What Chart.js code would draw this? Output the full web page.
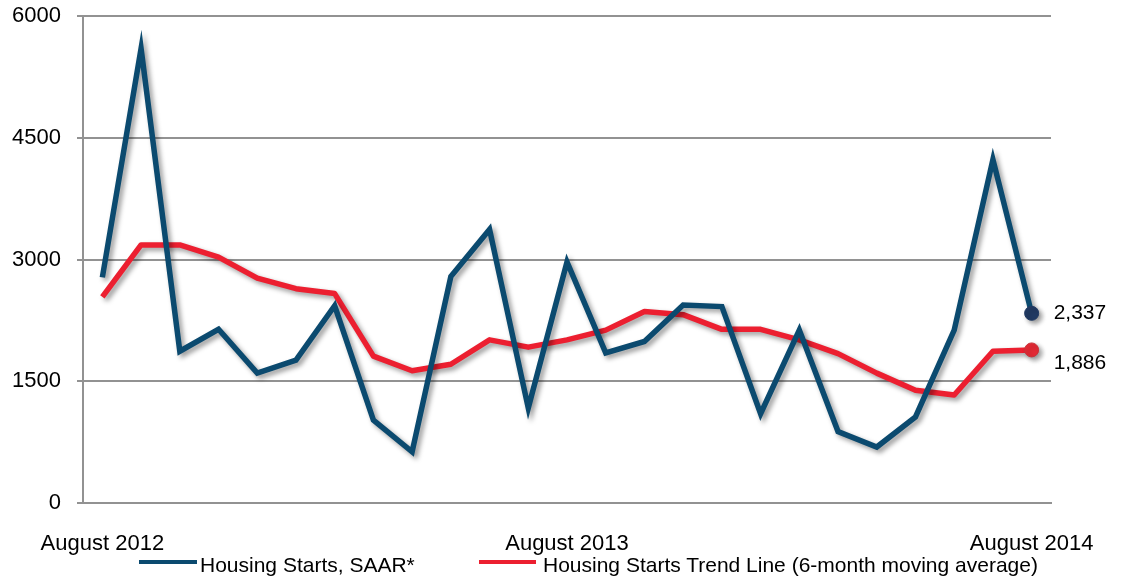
<!DOCTYPE html>
<html>
<head>
<meta charset="utf-8">
<script src="https://cdn.jsdelivr.net/npm/chart.js@4.4.1/dist/chart.umd.min.js"></script>
<style>
  html, body { margin: 0; padding: 0; background: #fff; }
  #wrap { position: relative; width: 1122px; height: 586px; }
  canvas { position: absolute; left: 0; top: 0; }
  .leg { position: absolute; top: 552px; font-family: "Liberation Sans", Arial, sans-serif; font-size: 21px; color: #000; white-space: nowrap; line-height: 26px; }
  .sw { position: absolute; height: 4px; top: 560px; }
</style>
</head>
<body>
<div id="wrap">
  <canvas id="c" width="1122" height="586"></canvas>
  <div class="sw" id="sw1" style="left:139px;width:58px;"></div>
  <div class="leg" id="lg1" style="left:200px;"></div>
  <div class="sw" id="sw2" style="left:479px;width:57px;"></div>
  <div class="leg" id="lg2" style="left:543px;"></div>
</div>
<script>
// ---- data ----
const months = ["August 2012","September 2012","October 2012","November 2012","December 2012",
  "January 2013","February 2013","March 2013","April 2013","May 2013","June 2013","July 2013",
  "August 2013","September 2013","October 2013","November 2013","December 2013",
  "January 2014","February 2014","March 2014","April 2014","May 2014","June 2014","July 2014","August 2014"];
const shownLabels = ["August 2012","August 2013","August 2014"];
const housingStarts = [2780,5600,1870,2140,1600,1760,2430,1020,630,2790,3370,1170,2970,1850,1990,2440,2420,1100,2130,880,690,1060,2130,4230,2337];
const trendLine = [2540,3180,3180,3030,2770,2640,2580,1810,1630,1710,2010,1920,2010,2130,2360,2320,2140,2140,2010,1840,1600,1390,1330,1870,1886];
const seriesNames = ["Housing Starts, SAAR*","Housing Starts Trend Line (6-month moving average)"];
const endLabels = ["2,337","1,886"];
const yTicks = [0,1500,3000,4500,6000];

const BLUE = "#0b4a6f", BLUE_MK = "#213a63";
const RED = "#ec1f30", RED_MK = "#e42a35";
const GRID = "#929292";
const FONT = "'Liberation Sans', Arial, sans-serif";

document.getElementById('sw1').style.background = BLUE;
document.getElementById('sw2').style.background = RED;
document.getElementById('lg1').textContent = seriesNames[0];
document.getElementById('lg2').textContent = seriesNames[1];

const lastIdx = months.length - 1;
const radii = months.map((m,i) => i === lastIdx ? 7 : 0);

const shadowPlugin = {
  id: 'shadow',
  beforeDatasetDraw(chart) {
    const ctx = chart.ctx;
    ctx.save();
    ctx.shadowColor = 'rgba(0,0,0,0.4)';
    ctx.shadowBlur = 5;
    ctx.shadowOffsetX = 3;
    ctx.shadowOffsetY = 3;
  },
  afterDatasetDraw(chart) { chart.ctx.restore(); }
};

const endLabelPlugin = {
  id: 'endLabels',
  afterDatasetsDraw(chart) {
    const ctx = chart.ctx;
    ctx.save();
    ctx.font = "21px " + FONT;
    ctx.fillStyle = "#000";
    ctx.textBaseline = "middle";
    ctx.textAlign = "left";
    const dy = [0, 13];
    chart.data.datasets.forEach((ds, di) => {
      const pt = chart.getDatasetMeta(di).data[lastIdx];
      ctx.fillText(endLabels[di], pt.x + 22, pt.y + dy[di]);
    });
    ctx.restore();
  }
};

new Chart(document.getElementById('c'), {
  type: 'line',
  data: {
    labels: months,
    datasets: [
      { label: seriesNames[0], data: housingStarts, borderColor: BLUE, borderWidth: 5.5,
        pointRadius: radii, pointBackgroundColor: BLUE_MK, pointBorderColor: BLUE_MK, pointBorderWidth: 1,
        tension: 0, borderJoinStyle: 'miter', fill: false },
      { label: seriesNames[1], data: trendLine, borderColor: RED, borderWidth: 5.5,
        pointRadius: radii, pointBackgroundColor: RED_MK, pointBorderColor: '#c8333a', pointBorderWidth: 1,
        tension: 0, borderJoinStyle: 'round', fill: false }
    ]
  },
  options: {
    responsive: false,
    animation: false,
    events: [],
    layout: { padding: { top: 16, right: 71, left: 0, bottom: 0 } },
    plugins: { legend: { display: false }, tooltip: { enabled: false } },
    scales: {
      x: {
        offset: true,
        grid: { display: false, drawTicks: false },
        border: { display: true, color: GRID, width: 2 },
        ticks: {
          autoSkip: false, maxRotation: 0, minRotation: 0, padding: 28,
          color: '#000', font: { family: FONT, size: 22 },
          callback: function(v, i) { const l = months[i]; return shownLabels.includes(l) ? l : ''; }
        },
        afterFit(scale) { scale.height = 83; scale.paddingLeft = 0; scale.paddingRight = 0; }
      },
      y: {
        min: 0, max: 6000,
        afterBuildTicks(scale) { scale.ticks = yTicks.map(v => ({ value: v })); },
        grid: { color: GRID, lineWidth: 2, tickLength: 6, drawTicks: true, tickColor: GRID },
        border: { display: true, color: GRID, width: 2 },
        ticks: { color: '#000', padding: 16, font: { family: FONT, size: 22 },
          callback: v => String(v) },
        afterFit(scale) { scale.width = 83; scale.paddingTop = 0; scale.paddingBottom = 0; }
      }
    }
  },
  plugins: [shadowPlugin, endLabelPlugin]
});
</script>
</body>
</html>
